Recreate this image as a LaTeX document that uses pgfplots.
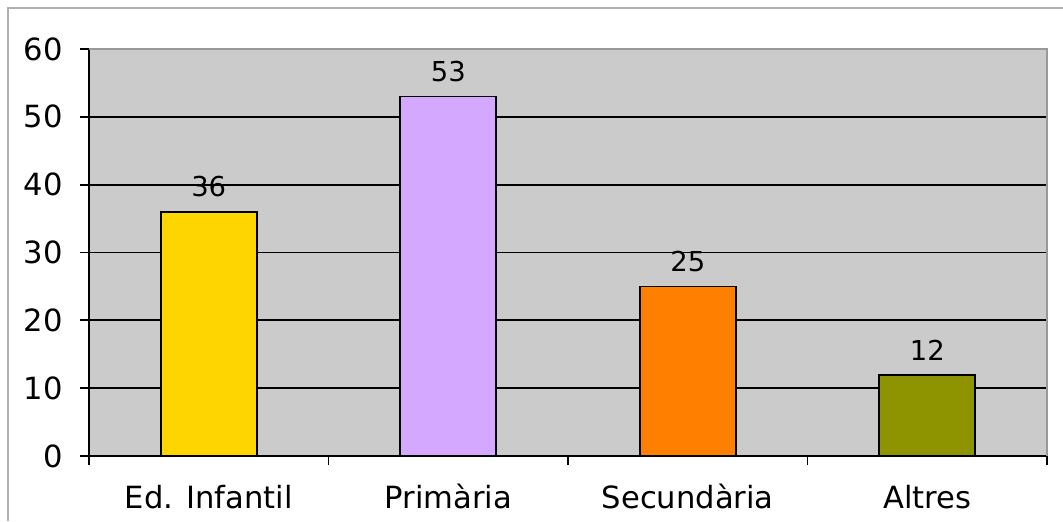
\documentclass[border=0pt]{standalone}
\usepackage{fontspec}
\setmainfont{DejaVu Sans}
\usepackage{pgfplots}
\pgfplotsset{compat=1.18}
\definecolor{bggray}{HTML}{CBCBCB}
\definecolor{bordergray}{HTML}{999999}
\definecolor{frame}{HTML}{B0B0B0}
\definecolor{cyel}{HTML}{FFD500}
\definecolor{clav}{HTML}{D5A8FF}
\definecolor{cora}{HTML}{FF8000}
\definecolor{coli}{HTML}{8E9400}
\begin{document}
\begin{tikzpicture}
\useasboundingbox (0,0) rectangle (531.5pt,260.5pt);
\draw[frame, line width=0.7pt] (4pt,0) -- (4pt,256.5pt) -- (531.5pt,256.5pt);
\begin{axis}[
  at={(44.5pt,32.5pt)}, anchor=south west,
  scale only axis, width=479pt, height=203.5pt,
  ybar, bar width=48pt,
  xmin=-0.5, xmax=3.5, ymin=0, ymax=60,
  axis x line*=bottom, axis y line*=left,
  axis line style={black, line width=0.9pt, -},
  axis background/.style={fill=bggray},
  xtick={0,1,2,3},
  xticklabels={Ed. Infantil, Primària, Secundària, Altres},
  major x tick style={draw=none},
  minor xtick={-0.5,0.5,1.5,2.5,3.5},
  ytick={0,10,...,60},
  minor ytick={10,20,...,50},
  yminorgrids,
  minor grid style={black, line width=0.9pt},
  minor y tick style={draw=none},
  tick align=outside,
  major tick length=4.5pt,
  minor x tick style={black, line width=0.9pt},
  minor tick length=4.5pt,
  y tick style={black, line width=0.9pt},
  /pgf/number format/assume math mode=true,
  ticklabel style={font=\fontsize{15.3}{18}\selectfont},
  xticklabel style={yshift=-10pt, text height=0.82em, text depth=0.22em},
  yticklabel style={xshift=-5pt},
  nodes near coords,
  nodes near coords style={font=\fontsize{13.7}{16}\selectfont, black, yshift=3.5pt},
  every axis plot/.append style={draw=black, line width=0.9pt, bar shift=0pt},
  clip=false,
]
\addplot[fill=cyel] coordinates {(0,36)};
\addplot[fill=clav] coordinates {(1,53)};
\addplot[fill=cora] coordinates {(2,25)};
\addplot[fill=coli] coordinates {(3,12)};
\draw[bordergray, line width=0.9pt] (rel axis cs:0,1) -- (rel axis cs:1,1) -- (rel axis cs:1,0);
\end{axis}
\end{tikzpicture}
\end{document}
